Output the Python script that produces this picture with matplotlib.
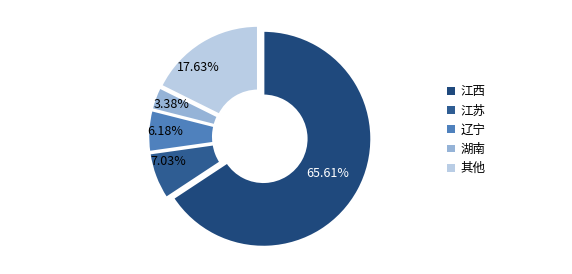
import matplotlib
matplotlib.use('Agg')
import matplotlib.pyplot as plt
import matplotlib.patches as patches
import numpy as np

plt.rcParams['font.family'] = ['Noto Sans CJK SC', 'DejaVu Sans']

labels = ['江西', '江苏', '辽宁', '湖南', '其他']
values = [65.61, 7.03, 6.18, 3.38, 17.63]
colors = ['#1F497D', '#2F5D93', '#4F81BD', '#95B3D7', '#B9CDE5']
text_colors = ['white', 'black', 'black', 'black', 'black']

fig = plt.figure(figsize=(5.72, 2.74), dpi=100)
ax = fig.add_axes([0, 0, 1, 1])

wedges, _ = ax.pie(values, colors=colors, startangle=90, counterclock=False,
                   radius=1.0, explode=[0.035] * len(values),
                   wedgeprops=dict(width=0.60, edgecolor='white', linewidth=1.5))

# pie resets the limits, so set them afterwards
ax.set_xlim(-260 / 108, 312 / 108)
ax.set_ylim(-137 / 108, 137 / 108)
ax.set_aspect('equal')
ax.axis('off')

# percentage labels (radius and small angle nudge per slice)
label_r = [0.71, 0.88, 0.88, 0.87, 0.86]
label_da = [0, -6, 0, 0, 10]
for w, v, r, da, tc in zip(wedges, values, label_r, label_da, text_colors):
    ang = np.radians((w.theta1 + w.theta2) / 2 + da)
    ax.text(r * np.cos(ang), r * np.sin(ang), f'{v:.2f}%', ha='center', va='center',
            fontsize=9, color=tc)

handles = [patches.Patch(facecolor=c, edgecolor='none') for c in colors]
fig.legend(handles, labels, loc='center left', bbox_to_anchor=(0.762, 0.525),
           frameon=False, fontsize=9, handlelength=0.6, handleheight=0.6,
           handletextpad=0.45, labelspacing=0.5)

fig.savefig('out.png', dpi=100, facecolor='white')
